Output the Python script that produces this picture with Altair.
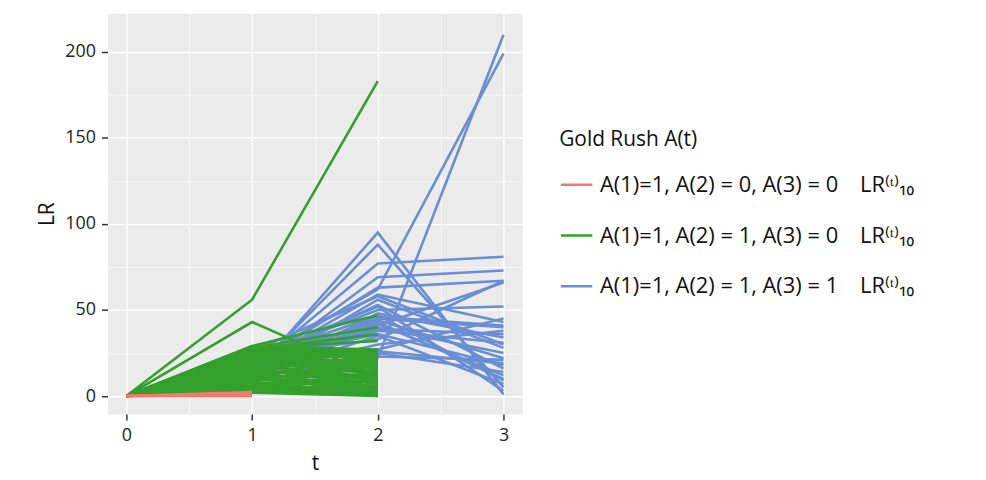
import altair as alt
import pandas as pd

# ---- legend categories / colours ----
labels = [
    "A(1)=1, A(2) = 0, A(3) = 0\u2003LR\u207d\u1d57\u207e\u2081\u2080",
    "\u2009A(1)=1, A(2) = 1, A(3) = 0\u2003LR\u207d\u1d57\u207e\u2081\u2080",
    "\u2009\u2009A(1)=1, A(2) = 1, A(3) = 1\u2003LR\u207d\u1d57\u207e\u2081\u2080",
]
colors = ["#F8766D", "#33A02C", "#6A8ED3"]

# ---- red trajectories: LR at t=0, t=1 ----
red_t0 = [0, 0, 0, 0, 0]
red_t1 = [0, 0.6, 1.2, 1.8, 2.4]

# ---- green trajectories: LR at t=0, t=1, t=2 ----
green_t1 = [56, 43, 29, 28, 27, 28, 29, 27, 26, 25, 24, 23, 22, 21, 20, 19, 18, 17, 16,
            15, 14, 13, 12, 11, 10, 9, 8, 7, 6, 5, 4, 3, 2, 25, 20, 15, 3, 24,
            28, 26, 24, 22, 20, 18, 16, 14, 12, 10, 8, 6, 4, 27, 23, 19, 11, 9, 7, 5]
green_t2 = [183, 11, 47, 40, 36, 32, 27, 25, 22, 27, 19, 24, 16, 26, 13, 21, 10, 18, 7,
            23, 4, 15, 1, 12, 5, 20, 2, 9, 0, 14, 3, 6, 0, 8, 3, 0, 1, 17,
            26, 24, 22, 20, 18, 16, 14, 12, 10, 8, 6, 4, 2, 13, 9, 5, 25, 17, 11, 21]
green_t0 = [0] * len(green_t1)

# ---- blue trajectories: LR at t=1, t=2, t=3 ----
blue_t1 = [12, 14, 16, 15, 18, 20, 11, 17, 13, 19, 22, 10, 21, 15, 18, 12, 24, 14, 16,
           20, 11, 23, 13, 17, 19, 25, 22, 16, 14, 26, 12, 18]
blue_t2 = [95, 88, 77, 69, 63, 62, 22, 59, 56, 53, 50, 48, 47, 45, 44, 42, 41, 40, 38,
           36, 35, 33, 30, 27, 25, 23, 52, 46, 43, 58, 39, 26]
blue_t3 = [1, 5, 81, 73, 67, 199, 210, 43, 28, 16, 52, 34, 9, 40, 22, 12, 66, 25, 31,
           18, 7, 67, 38, 45, 14, 21, 3, 41, 10, 30, 36, 19]

rows = []
for i in range(len(red_t1)):
    for t, v in zip([0, 1], [red_t0[i], red_t1[i]]):
        rows.append({"id": f"r{i}", "g": labels[0], "t": t, "LR": v})
for i in range(len(green_t1)):
    for t, v in zip([0, 1, 2], [green_t0[i], green_t1[i], green_t2[i]]):
        rows.append({"id": f"g{i}", "g": labels[1], "t": t, "LR": v})
for i in range(len(blue_t1)):
    for t, v in zip([1, 2, 3], [blue_t1[i], blue_t2[i], blue_t3[i]]):
        rows.append({"id": f"b{i}", "g": labels[2], "t": t, "LR": v})
df = pd.DataFrame(rows)

FONT = "Open Sans"

color = alt.Color(
    "g:N",
    scale=alt.Scale(domain=labels, range=colors),
    legend=alt.Legend(
        title="Gold Rush A(t)",
        orient="none",
        legendX=454,
        legendY=116,
        titleFont=FONT,
        titleFontSize=21,
        titleFontWeight="normal",
        titleColor="#111",
        titlePadding=18,
        labelFont=FONT,
        labelFontSize=22,
        labelColor="#111",
        labelOffset=6,
        symbolType="stroke",
        symbolStrokeWidth=2.5,
        symbolSize=1000,
        rowPadding=22,
        labelLimit=440,
    ),
)

x = alt.X(
    "t:Q",
    scale=alt.Scale(domain=[-0.15, 3.15], nice=False, zero=False),
    axis=alt.Axis(
        values=[0, 0.5, 1, 1.5, 2, 2.5, 3],
        labelExpr="datum.value % 1 === 0 ? format(datum.value, 'd') : ''",
        title="t",
        titleFont=FONT,
        titleFontSize=21,
        titleFontWeight="normal",
        titleColor="#111",
        titlePadding=8,
        labelFont=FONT,
        labelFontSize=18,
        labelColor="#222",
        labelPadding=7,
        domain=False,
        tickColor="#333",
        tickSize=6,
        tickWidth=1.5,
        tickOpacity={"condition": {"test": "datum.value % 1 === 0", "value": 1}, "value": 0},
        gridColor="#FFFFFF",
        gridWidth={"condition": {"test": "datum.value % 1 === 0", "value": 1.4}, "value": 0.7},
    ),
)

y = alt.Y(
    "LR:Q",
    scale=alt.Scale(domain=[-10.5, 222.5], nice=False, zero=False),
    axis=alt.Axis(
        values=[0, 25, 50, 75, 100, 125, 150, 175, 200],
        labelExpr="datum.value % 50 === 0 ? format(datum.value, 'd') : ''",
        title="LR",
        titleFont=FONT,
        titleFontSize=21,
        titleFontWeight="normal",
        titleColor="#111",
        titlePadding=7,
        labelFont=FONT,
        labelFontSize=18,
        labelColor="#222",
        labelPadding=6,
        domain=False,
        tickColor="#333",
        tickSize=6,
        tickWidth=1.5,
        tickOpacity={"condition": {"test": "datum.value % 50 === 0", "value": 1}, "value": 0},
        gridColor="#FFFFFF",
        gridWidth={"condition": {"test": "datum.value % 50 === 0", "value": 1.4}, "value": 0.7},
    ),
)

base = alt.Chart(df).mark_line(strokeWidth=2.6, clip=True).encode(
    x=x, y=y, color=color, detail="id:N"
)

blue = base.transform_filter(alt.datum.g == labels[2])
green = base.transform_filter(alt.datum.g == labels[1])
red = base.transform_filter(alt.datum.g == labels[0])

chart = (
    alt.layer(blue, green, red)
    .properties(
        width=417,
        height=403,
        autosize="none",
        padding={"left": 100, "top": 4, "right": 458, "bottom": 64},
    )
    .configure_view(fill="#EBEBEB", stroke="transparent")
)

chart.save("out.html", embed_options={"renderer": "svg", "actions": False})
